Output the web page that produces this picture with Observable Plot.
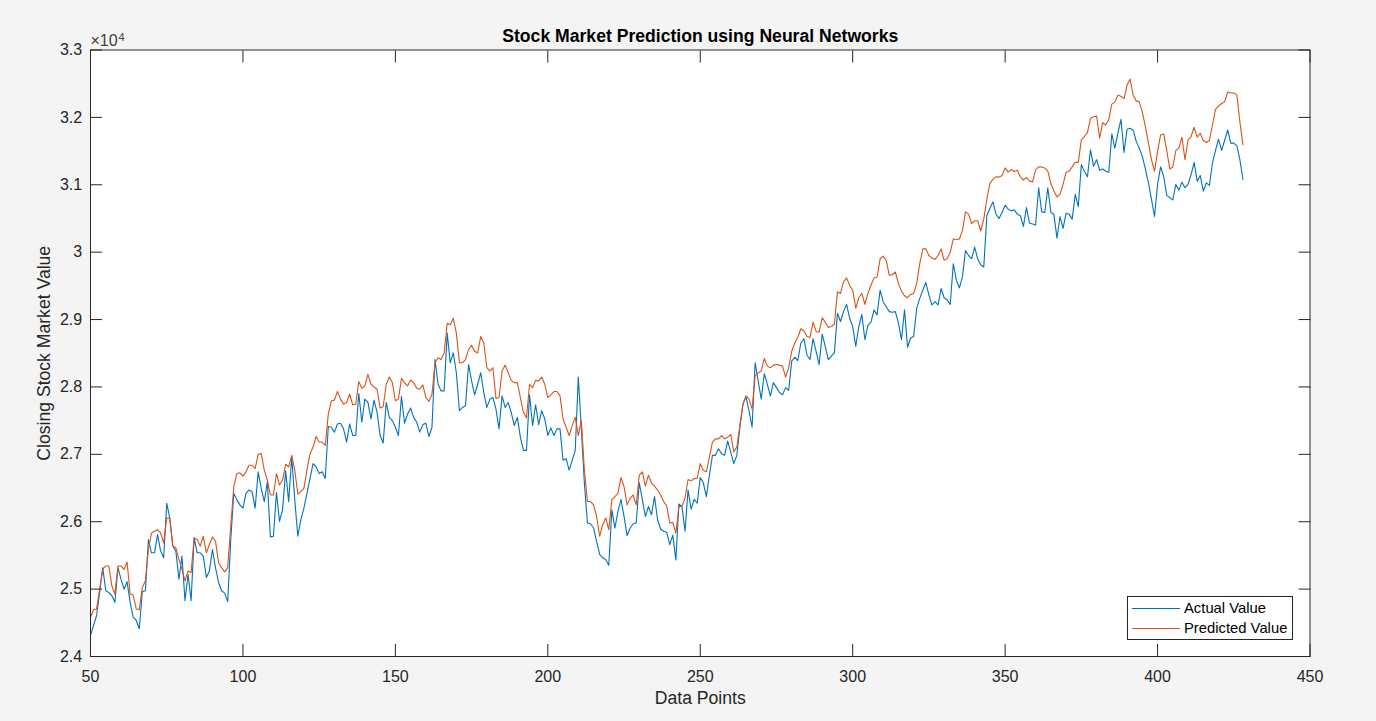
<!DOCTYPE html>
<html><head><meta charset="utf-8">
<script src="https://cdn.jsdelivr.net/npm/d3@7"></script>
<script src="https://cdn.jsdelivr.net/npm/@observablehq/plot@0.6"></script>
<style>
html,body{margin:0;padding:0;background:#f4f4f4;}
#wrap{position:relative;width:1376px;height:721px;font-family:"Liberation Sans",Arial,sans-serif;color:#262626;}
#wrap svg{display:block;}
.abs{position:absolute;white-space:nowrap;}
#legend{position:absolute;left:1127px;top:596px;width:166px;height:44px;box-sizing:border-box;border:1px solid #262626;background:#fff;}
#legend .ln{position:absolute;left:4px;width:48px;height:1px;}
#legend .tx{position:absolute;left:56px;font-size:14.8px;line-height:15px;color:#000;}
</style>
</head><body>
<div id="wrap"></div>
<script>
const titleText = "Stock Market Prediction using Neural Networks";
const xLabel = "Data Points";
const yLabel = "Closing Stock Market Value";
const seriesNames = ["Actual Value", "Predicted Value"];
const seriesColors = ["#0072BD", "#D95319"];
const xStart = 50;
const xTicks = [50, 100, 150, 200, 250, 300, 350, 400, 450];
const yTicks = [24000, 25000, 26000, 27000, 28000, 29000, 30000, 31000, 32000, 33000];

const actual = [
24314,24461,24608,24951,25319,24976,24951,24902,24804,25319,
25147,24999,25108,24804,24584,24535,24412,24961,24976,25735,
25539,25539,25809,25564,25466,26275,26054,25637,25564,25147,
25490,24829,25221,24829,25760,25539,25539,25490,25172,25270,
25588,25319,25098,24976,24941,24814,25735,26422,26324,26250,
26201,26422,26471,26446,26201,26740,26495,26299,26593,25775,
25785,26432,26005,26177,26755,26299,26961,26324,25785,26030,
26201,26422,26642,26863,26814,26716,26740,26642,27412,27402,
27329,27451,27461,27378,27182,27451,27280,27280,27902,27476,
27819,27770,27525,27804,27623,27280,27167,27770,27549,27500,
27402,27280,27858,27461,27598,27687,27549,27476,27329,27441,
27461,27265,27402,28407,28040,27941,27941,28799,28358,28505,
28211,27647,27696,27721,28334,28089,27883,28040,28211,27917,
27696,27819,27843,27672,27378,27868,27696,27770,27623,27427,
27549,27255,27059,27059,27883,27427,27736,27441,27647,27525,
27280,27392,27280,27378,27378,26912,26936,26765,26911,27058,
28147,27377,26568,25980,25970,25907,25710,25514,25465,25441,
25353,26176,25906,26152,26333,26078,25794,25906,25970,25980,
26578,26333,26078,26225,26103,26372,26029,25892,25858,25843,
25661,25799,25431,26264,26225,25858,26470,26186,26333,26274,
26657,26578,26372,26691,26985,26985,27083,27009,26985,27196,
27034,26863,26985,27402,27745,27853,27647,27402,28358,28088,
27819,28196,28039,27868,28064,27990,27917,27882,27990,27951,
28382,28441,28392,28652,28716,28471,28407,28716,28529,28333,
28784,28603,28407,28456,28505,29093,28971,29118,29225,29020,
28897,28603,28897,29078,28701,28912,28961,29142,29069,29436,
29265,29191,29118,29108,29118,28946,28701,29143,28589,28726,
28750,29167,29314,29437,29549,29363,29216,29265,29216,29461,
29324,29290,29226,29829,29584,29471,29633,30025,29951,29902,
30074,29902,29814,29780,30540,30647,30746,30564,30500,30589,
30696,30638,30613,30628,30564,30540,30383,30662,30432,30417,
30402,30956,30598,30589,30956,30588,30564,30206,30529,30353,
30578,30564,30490,30858,30676,31299,31201,31118,31519,31274,
31372,31216,31235,31201,31186,31755,31544,31765,31970,31480,
31823,31838,31814,31642,31544,31421,31235,31029,30784,30529,
31005,31265,31127,30843,30809,30774,31005,30921,31039,30956,
31005,31152,31333,31054,31137,30907,31029,30990,31323,31510,
31676,31510,31657,31814,31618,31618,31578,31372,31078
];

const predicted = [
24583,24696,24706,25000,25294,25343,25343,25049,24927,25343,
25343,25294,25402,24927,24912,24706,24696,25025,25123,25588,
25833,25858,25882,25833,25686,26054,26054,25637,25613,25441,
25294,25123,25270,25245,25760,25735,25637,25784,25539,25662,
25775,25711,25392,25319,25255,25319,25931,26520,26716,26726,
26677,26740,26838,26838,26789,27000,27010,26765,26618,26397,
26397,26716,26544,26618,26853,26814,26986,26765,26412,26446,
26495,26765,27010,27108,27265,27182,27182,27133,27598,27794,
27804,27932,27819,27745,27770,27892,27736,27745,28079,27981,
28015,28187,28040,28000,27966,27687,27706,28040,28147,28064,
27794,27819,28128,28064,28015,28103,28064,27981,27966,28030,
27843,27785,27892,28358,28432,28407,28505,28946,28922,29020,
28799,28358,28358,28407,28554,28618,28530,28505,28750,28652,
28285,28236,28285,27829,27843,28236,28324,28211,28098,28064,
28064,27843,27623,27539,28040,27991,28098,28089,28147,28040,
27843,27883,27932,27932,27868,27525,27402,27280,27426,27549,
27279,27500,26764,26299,26299,26250,26078,25784,25956,26054,
25882,26323,26372,26421,26657,26519,26250,26348,26397,26250,
26691,26740,26529,26691,26578,26529,26470,26397,26299,26235,
25980,25990,25833,26225,26225,26348,26627,26607,26642,26642,
26862,26764,26740,26960,27181,27230,27230,27279,27230,27255,
27294,27034,27108,27427,27745,27868,27819,27672,28162,28211,
28235,28422,28309,28284,28324,28333,28324,28309,28147,28284,
28529,28652,28735,28863,28833,28750,28735,28961,28824,28814,
29029,28961,28882,28897,28931,29412,29387,29559,29618,29510,
29436,29167,29324,29387,29225,29387,29510,29618,29632,29902,
29941,29877,29657,29667,29706,29535,29422,29353,29324,29373,
29388,29535,29829,30049,30049,29951,29912,29893,29951,30049,
29878,29902,30000,30196,30187,30196,30319,30598,30564,30422,
30466,30466,30314,30491,30785,31020,31079,31118,31113,31138,
31250,31187,31226,31196,31216,31118,31069,31108,31054,31040,
31226,31265,31265,31250,31201,31019,30907,30818,30858,31005,
31186,31201,31265,31333,31333,31667,31716,31774,31985,32010,
32019,31691,31921,31887,31970,32196,32230,32328,32314,32279,
32480,32570,32330,32245,32230,32083,31863,31617,31372,31201,
31495,31740,31755,31510,31235,31265,31510,31544,31706,31372,
31667,31716,31853,31706,31765,31657,31627,31657,31887,32118,
32167,32206,32230,32377,32363,32363,32338,31936,31593
];

const axisColor = "#262626";
const yFmt = d => String(Math.round(d / 1000) / 10);
const none = () => "";

const chart = Plot.plot({
  width: 1376, height: 721,
  marginLeft: 90, marginRight: 66.5, marginTop: 49.5, marginBottom: 65,
  style: {background: "transparent", fontFamily: "'Liberation Sans', Arial, sans-serif", color: axisColor},
  x: {domain: [50, 450]},
  y: {domain: [24000, 33000]},
  marks: [
    Plot.frame({fill: "white"}),
    Plot.line(actual, {x: (d, i) => xStart + i, y: d => d, stroke: seriesColors[0], strokeWidth: 1.1}),
    Plot.line(predicted, {x: (d, i) => xStart + i, y: d => d, stroke: seriesColors[1], strokeWidth: 1.1}),
    Plot.frame({stroke: axisColor, strokeWidth: 1}),
    Plot.axisX({anchor: "bottom", ticks: xTicks, tickSize: -12, tickFormat: none, label: null, stroke: axisColor}),
    Plot.axisX({anchor: "top", ticks: xTicks, tickSize: -12, tickFormat: none, label: null, stroke: axisColor}),
    Plot.axisY({anchor: "left", ticks: yTicks, tickSize: -12, tickFormat: none, label: null, stroke: axisColor}),
    Plot.axisY({anchor: "right", ticks: yTicks, tickSize: -12, tickFormat: none, label: null, stroke: axisColor}),
    Plot.axisX({anchor: "bottom", ticks: xTicks, tickSize: 0, tickPadding: 14, fontSize: 16, label: null, fill: axisColor}),
    Plot.axisY({anchor: "left", ticks: yTicks, tickSize: 0, tickPadding: 8.3, fontSize: 16, tickFormat: yFmt, label: null, fill: axisColor}),
    Plot.text([titleText], {frameAnchor: "top", dy: -13.4, fontSize: 17.6, fontWeight: "bold", lineAnchor: "middle", fill: "#000"}),
    Plot.text([xLabel], {frameAnchor: "bottom", dy: 41.7, fontSize: 17.6, lineAnchor: "middle", fill: axisColor}),
    Plot.text([yLabel], {frameAnchor: "left", dx: -46.3, rotate: -90, fontSize: 17.6, lineAnchor: "middle", textAnchor: "middle", fill: axisColor})
  ]
});

const wrap = document.getElementById("wrap");
wrap.appendChild(chart);

const exp = document.createElement("div");
exp.className = "abs";
exp.style.cssText = "left:90.5px;top:32.5px;font-size:16px;line-height:16px;color:#404040;";
exp.textContent = "\u00d710";
wrap.appendChild(exp);
const sup = document.createElement("div");
sup.className = "abs";
sup.style.cssText = "left:118.6px;top:31.9px;font-size:11px;line-height:11px;color:#404040;";
sup.textContent = "4";
wrap.appendChild(sup);

const legend = document.createElement("div");
legend.id = "legend";
seriesNames.forEach((name, i) => {
  const ln = document.createElement("div");
  ln.className = "ln";
  ln.style.top = (11 + 20 * i) + "px";
  ln.style.background = seriesColors[i];
  legend.appendChild(ln);
  const tx = document.createElement("div");
  tx.className = "tx";
  tx.style.top = (3.7 + 20.7 * i) + "px";
  tx.textContent = name;
  legend.appendChild(tx);
});
wrap.appendChild(legend);
</script>
</body></html>
